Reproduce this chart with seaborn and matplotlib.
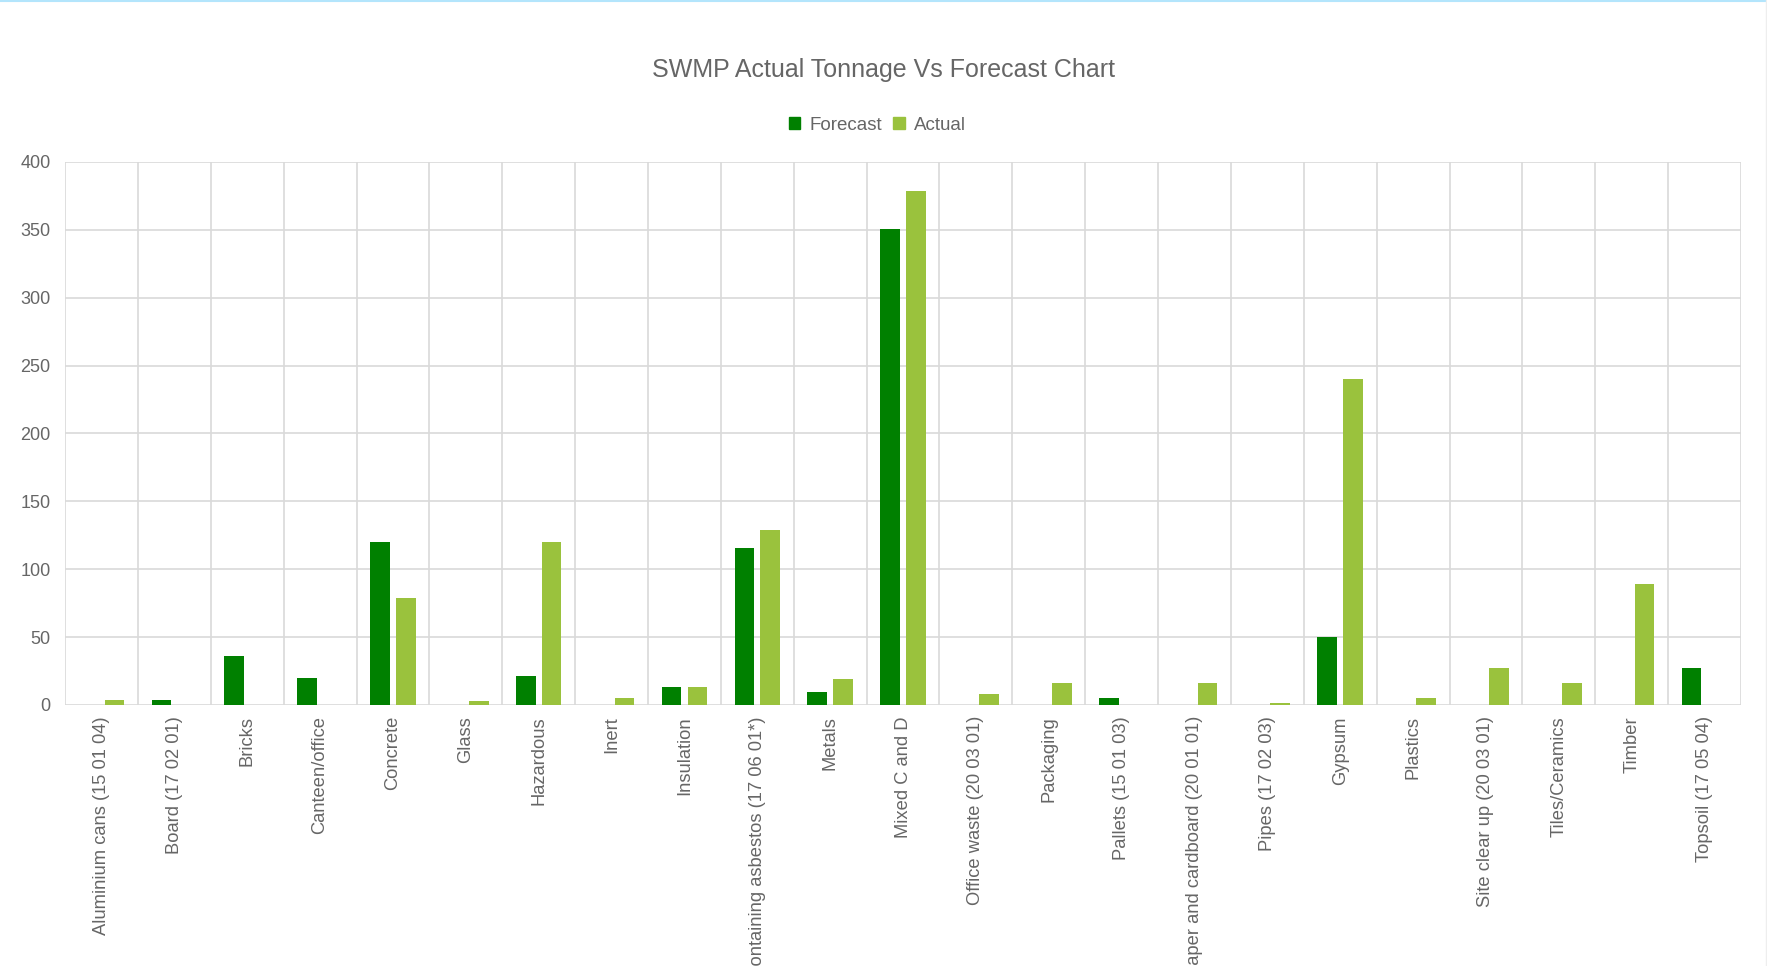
import numpy as np
import pandas as pd
import seaborn as sns
import matplotlib.pyplot as plt
from matplotlib.lines import Line2D

# waste streams and tonnages
categories = [
    "Aluminium cans (15 01 04)", "Board (17 02 01)", "Bricks", "Canteen/office",
    "Concrete", "Glass", "Hazardous", "Inert", "Insulation",
    "Materials containing asbestos (17 06 01*)", "Metals", "Mixed C and D",
    "Office waste (20 03 01)", "Packaging", "Pallets (15 01 03)",
    "Paper and cardboard (20 01 01)", "Pipes (17 02 03)", "Gypsum", "Plastics",
    "Site clear up (20 03 01)", "Tiles/Ceramics", "Timber", "Topsoil (17 05 04)",
]
forecast = [0, 4, 36, 20, 120, 0, 21, 0, 13, 116, 9.5, 351,
            0, 0, 5, 0, 0, 50, 0, 0, 0, 0, 27]
actual = [4, 0, 0, 0, 79, 3, 120, 5, 13, 129, 19, 379,
          8, 16, 0, 16, 1.5, 240, 5, 27, 16, 89, 0]

series_names = ["Forecast", "Actual"]
colors = ["#008000", "#9AC23D"]

df = pd.DataFrame({"Category": categories, "Forecast": forecast, "Actual": actual})
long_df = df.melt(id_vars="Category", var_name="Series", value_name="Tonnes")

sns.set_style("white")
plt.rcParams["font.family"] = ["Liberation Sans", "DejaVu Sans"]
text_col = "#666666"
grid_col = "#d9d9d9"

fig = plt.figure(figsize=(17.67, 9.66), dpi=100)
ax = fig.add_axes([0.0368, 0.2702, 0.9485, 0.5621])

sns.barplot(data=long_df, x="Category", y="Tonnes", hue="Series",
            hue_order=series_names, palette=colors, width=0.71, gap=0.24,
            saturation=1, linewidth=0, ax=ax, legend=False)

n = len(categories)
ax.set_xlim(-0.5, n - 0.5)
ax.set_ylim(0, 400)
ax.set_yticks(np.arange(0, 401, 50))
ax.set_xticks(np.arange(-0.5, n, 1), minor=True)
ax.grid(axis="y", which="major", color=grid_col, linewidth=1.2)
ax.grid(axis="x", which="minor", color=grid_col, linewidth=1.2)
ax.set_axisbelow(True)
for s in ax.spines.values():
    s.set_visible(False)

ax.tick_params(axis="x", which="major", length=0, pad=8, labelrotation=90,
               labelsize=13.2, labelcolor=text_col)
ax.tick_params(axis="x", which="minor", length=5, color=grid_col, width=1.2)
ax.tick_params(axis="y", length=7, color=grid_col, width=1.2, pad=3.5,
               labelsize=13, labelcolor=text_col)
for lbl in ax.get_xticklabels():
    lbl.set_verticalalignment("top")
ax.set_xlabel("")
ax.set_ylabel("")

fig.suptitle("SWMP Actual Tonnage Vs Forecast Chart", x=0.5, y=0.9275,
             va="center", fontsize=18, color=text_col)

handles = [plt.Rectangle((0, 0), 1, 1, color=c) for c in colors]
fig.legend(handles, series_names, loc="center", bbox_to_anchor=(0.4965, 0.8706),
           ncol=2, frameon=False, handlelength=0.6, handleheight=0.6,
           handletextpad=0.5, columnspacing=0.6, fontsize=13.5, labelcolor=text_col)

# thin page borders of the original screenshot
fig.add_artist(Line2D([0, 1], [0.999, 0.999], transform=fig.transFigure,
                      color="#b3e5fc", linewidth=1.5))
fig.add_artist(Line2D([0.9995, 0.9995], [0, 1], transform=fig.transFigure,
                      color="#eeeeee", linewidth=1))

fig.savefig("out.png", dpi=100)
